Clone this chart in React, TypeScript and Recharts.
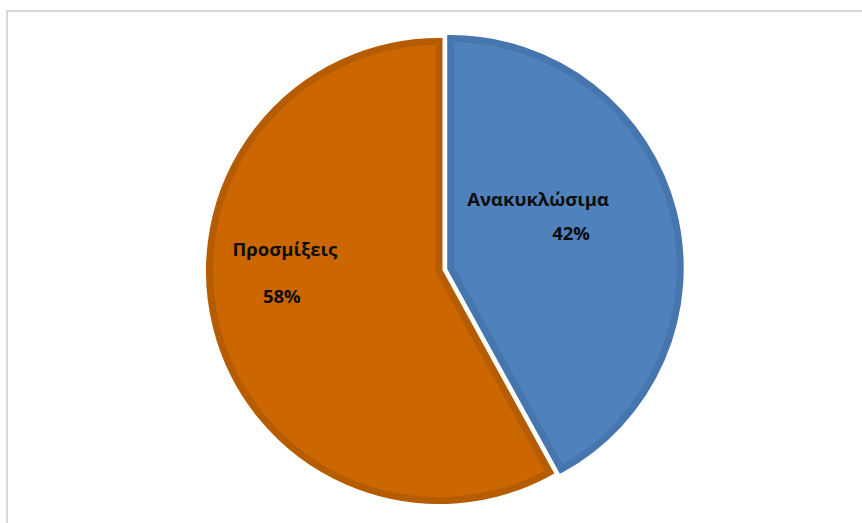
import React from "react";
import { PieChart, Pie, Cell } from "recharts";

const categories = ["Ανακυκλώσιμα", "Προσμίξεις"];
const values = [42, 58];
const percentLabels = ["42%", "58%"];

const data = categories.map((name, i) => ({ name, value: values[i], label: percentLabels[i] }));

const FILL = ["#4F81BD", "#CC6600"];
const BAND = ["#4775AE", "#B55B00"];
const BAND_W = 7;
const GAP = 4;
const R = 233;
const ORANGE_C = { x: 439, y: 271 };
const BLUE_C = { x: 450.7, y: 268 };
const RADIAN = Math.PI / 180;

// label layout per slice: anchor radius factor + offsets of name & value
const LABEL_LAYOUT = [
  { k: 0.5, name: [-25.4, -33.4], value: [7.6, 1.1] },
  { k: 0.66, name: [-5.2, -53.7], value: [-8.2, -6.7] },
];

const FONT = "'Open Sans', 'DejaVu Sans', sans-serif";

const makeLabel = (visibleIndex: number) => (props: any) => {
  const { cx, cy, midAngle, outerRadius, index } = props;
  if (index !== visibleIndex) return null;
  const lay = LABEL_LAYOUT[index];
  const r = (outerRadius + BAND_W / 2) * lay.k;
  const ax = cx + r * Math.cos(-midAngle * RADIAN);
  const ay = cy + r * Math.sin(-midAngle * RADIAN);
  const common = {
    textAnchor: "middle" as const,
    fill: "#0D0D0D",
    fontFamily: FONT,
    fontWeight: 700,
    fontSize: 18.5,
  };
  return (
    <g key={`lbl-${index}`}>
      <text x={ax + lay.name[0]} y={ay + lay.name[1]} {...common}>
        {data[index].name}
      </text>
      <text x={ax + lay.value[0]} y={ay + lay.value[1]} {...common}>
        {data[index].label}
      </text>
    </g>
  );
};

export default function App() {
  const rr = R - BAND_W / 2;
  return (
    <div
      style={{
        position: "fixed",
        left: 0,
        top: 0,
        width: 862,
        height: 523,
        overflow: "hidden",
        background: "#FFFFFF",
      }}
    >
      <div style={{ position: "absolute", left: 0, top: 0 }}>
        <PieChart width={862} height={523} margin={{ top: 0, right: 0, bottom: 0, left: 0 }}>
          {/* orange slice */}
          <Pie
            data={data}
            dataKey="value"
            nameKey="name"
            cx={ORANGE_C.x}
            cy={ORANGE_C.y}
            outerRadius={rr}
            startAngle={90}
            endAngle={-270}
            isAnimationActive={false}
            labelLine={false}
            label={makeLabel(1)}
          >
            {data.map((_, i) =>
              i === 1 ? (
                <Cell key={i} fill={FILL[1]} stroke={BAND[1]} strokeWidth={BAND_W} />
              ) : (
                <Cell key={i} fill="none" stroke="none" />
              )
            )}
          </Pie>
          {/* white halo around exploded blue slice */}
          <Pie
            data={data}
            dataKey="value"
            nameKey="name"
            cx={BLUE_C.x}
            cy={BLUE_C.y}
            outerRadius={rr}
            startAngle={90}
            endAngle={-270}
            isAnimationActive={false}
            labelLine={false}
          >
            {data.map((_, i) =>
              i === 0 ? (
                <Cell key={i} fill="#FFFFFF" stroke="#FFFFFF" strokeWidth={BAND_W + 2 * GAP} />
              ) : (
                <Cell key={i} fill="none" stroke="none" />
              )
            )}
          </Pie>
          {/* blue slice */}
          <Pie
            data={data}
            dataKey="value"
            nameKey="name"
            cx={BLUE_C.x}
            cy={BLUE_C.y}
            outerRadius={rr}
            startAngle={90}
            endAngle={-270}
            isAnimationActive={false}
            labelLine={false}
            label={makeLabel(0)}
          >
            {data.map((_, i) =>
              i === 0 ? (
                <Cell key={i} fill={FILL[0]} stroke={BAND[0]} strokeWidth={BAND_W} />
              ) : (
                <Cell key={i} fill="none" stroke="none" />
              )
            )}
          </Pie>
        </PieChart>
      </div>
      <div
        style={{
          position: "absolute",
          left: 6,
          top: 10,
          width: 1000,
          height: 800,
          borderTop: "2px solid #D9D9D9",
          borderLeft: "2px solid #D9D9D9",
          boxSizing: "border-box",
          pointerEvents: "none",
        }}
      />
    </div>
  );
}
